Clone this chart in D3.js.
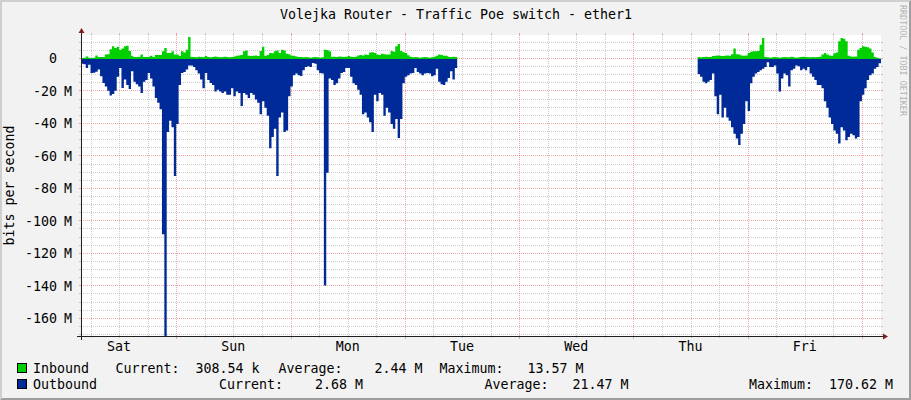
<!DOCTYPE html>
<html><head><meta charset="utf-8">
<script src="https://cdn.jsdelivr.net/npm/d3@7"></script>
<style>
html,body{margin:0;padding:0;background:#fff;}
svg{display:block;}
text{font-family:"DejaVu Sans Mono",monospace;white-space:pre;}
</style></head><body>
<svg id="c" width="911" height="400"></svg>
<script>
// ---------- data ----------
const title = "Volejka Router - Traffic Poe switch - ether1";
const yAxisTitle = "bits per second";
const watermark = "RRDTOOL / TOBI OETIKER";
const dayLabels = ["Sat","Sun","Mon","Tue","Wed","Thu","Fri"];
const seriesNames = ["Inbound","Outbound"];
const seriesColors = ["#00CF00","#002A97"];
const stepMinutes = 30;
const viewStart = new Date(2024,0,6,4,0);   // Saturday 04:00
const viewEnd   = new Date(2024,0,13,4,0);
const seg1Start = new Date(2024,0,6,4,0);
const seg2Start = new Date(2024,0,11,13,30);
// values in Mbit/s (outbound drawn negative)
const inbound1 = [0.6,0.8,1.6,0.8,0.6,0.8,2.2,1.2,1.2,1.2,
 2.7,3,6,7.8,6.8,7.5,5.5,6.5,7.8,8.2,
 5,2,1.2,1.2,1.4,2.7,1.2,1.2,1.4,2,
 1.2,2.5,2.5,2.5,4.7,6.8,3.7,3.7,4.7,2.7,
 2.7,2,4.7,4,5.7,13.57,1.2,1.2,1.0,1.4,
 1.2,1.0,1.8,1.2,1.0,1.2,1.6,1.2,1.0,1.2,
 1.4,1.2,1.0,1.2,1.6,2,2.2,2.5,4.7,5.2,
 2,1.8,2,2.2,1.8,5,7.5,2,2.5,3.7,
 3.5,4.7,5.2,3.7,5.7,5.2,3.3,3,2,2,
 1.6,1.2,1.2,1.0,1.2,1.0,0.8,1.0,1.2,1.0,
 0.8,1.0,5.7,5.5,4.7,1.4,1.4,1.2,1.6,1.4,
 1.2,1.4,1.8,1.4,1.2,1.4,2.2,2.5,2.2,2.7,
 2.5,4,4.2,3.7,2.7,2.5,3.3,3,2.7,2.7,
 5,4.5,7.8,9.2,5,4.2,3.7,2.3,1.4,1.0,
 1.2,1.0,0.8,1.0,1.2,1.0,0.8,1.0,1.4,2,
 2.7,2.5,2,2,1.4,1.2,1.4,1.2];
const outbound1 = [3,3.2,5.5,3.5,8.6,8.4,7.8,6.5,10.7,14.8,
 17,19.5,22.5,21.5,19.5,11,5.5,17.8,12.7,16,
 18.5,7.6,14,15.5,17,21,14,13,8.6,12,
 17,24,27,31,108,170.62,45,38,42,72,
 40,16,8.6,8,6.5,4,4,5,7,9,
 12.7,18,8.6,13,14.8,16,20,19,20,21,
 20,22,22,18,23,20,21,29,21,22,
 24,21,22,25,27,34,26,30,35,55,
 48,43,72,36,33,45,44,23,17,10,
 9,10,10.5,7,5,4.5,5,2.5,3,7,
 8.6,9,139.5,70,12,13,16,15,12,8.6,
 8,5.5,5.5,11,15,16,19,22,34,33,
 36,39,45,22,26,21,22,35,30,33,
 40,43,37,48.6,37,15,11,10,9,8.6,
 5.5,8,9,10,9,8.6,9,10.7,10,6,
 14,15.5,16,14,11.7,7.6,12.7,5.5];
const inbound2 = [1.2,1.0,1.2,1.4,1.2,1.2,1.8,2.0,2.2,2.0,
 1.8,2.0,2.2,2.0,3,6.5,3,2.7,2.2,2,
 2.2,3.7,4.5,4.7,4.7,5,8.8,13,1.2,1.0,
 0.8,1.0,1.2,1.0,0.8,1.0,1.2,1.0,1.0,1.4,
 1.0,0.8,1.0,1.2,1.4,1.2,1.0,1.0,1.2,1.0,
 1.2,1.4,2.7,3.7,2.7,2.2,2,3.5,4,11,
 13,12.5,11,2,1.6,1.4,1.6,5.7,6.8,7.8,
 7.5,7.2,6.5,4,1.2,0.8,0.31];
const outbound2 = [9.2,11,14,15,14,13,9,23,34,22,
 36,30,36,38,42,46,49,53,46,40,
 26,32,15,11,9,8,7,6,5,2,
 5,5,4,9,20,12,9,10,17,7,
 6,4,4.5,7,6,7,5,9,11,13,
 16,16,18,26,30,36,40,44,46,52,
 42,44,50,48,46,47,49,48,26,22,
 18,13,10,9,6,5,2.68];
const legendLabels = ["Current:","Average:","Maximum:"];
const legendCurrent = [[308.54,"k"],[2.68,"M"]];
const legendAverage = [[2.44,"M"],[21.47,"M"]];
const legendMaximum = [[13.57,"M"],[170.62,"M"]];
const yMin = -170.62, yMax = 14.78;
const yMinorStep = 5, yMajorStep = 20;

// ---------- layout ----------
const W = 911, H = 400;
const xOrigin = 81, xSize = 800, yOrigin = 336, ySize = 301;
const col = {back:"#F2F2F2", shadeA:"#CFCFCF", shadeB:"#9E9E9E", grid:"rgba(143,143,143,0.45)",
  mgrid:"rgba(222,79,79,0.5)", arrow:"#801F1F", axis:"#1F1F1F", font:"#000"};

const svg = d3.select("#c");
const x = d3.scaleTime().domain([viewStart, viewEnd]).range([xOrigin, xOrigin + xSize]);
const y = d3.scaleLinear().domain([yMin, yMax]).range([yOrigin, yOrigin - ySize]);

// background + 3d border
svg.append("rect").attr("width", W).attr("height", H).attr("fill", col.back);
svg.append("polygon").attr("points", [[0,H],[2,H-2],[2,2],[W-2,2],[W,0],[0,0]].join(" ")).attr("fill", col.shadeA);
svg.append("polygon").attr("points", [[2,H-2],[W-2,H-2],[W-2,2],[W,0],[W,H],[0,H]].join(" ")).attr("fill", col.shadeB);

// canvas
const cTop = yOrigin - ySize;
svg.append("rect").attr("x", xOrigin).attr("y", cTop).attr("width", xSize).attr("height", ySize).attr("fill", "#fff");

const g = svg.append("g").attr("shape-rendering", "crispEdges");
const px = v => Math.round(v) + 0.5;

// x grid
const allHours = d3.timeHour.every(6).range(viewStart, viewEnd);
allHours.forEach(t => {
  const major = t.getHours() === 0;
  const xx = px(x(t));
  if (xx <= xOrigin + 1) return;
  const c = major ? col.mgrid : col.grid;
  g.append("line").attr("x1", xx).attr("x2", xx).attr("y1", cTop).attr("y2", yOrigin)
    .attr("stroke", c).attr("stroke-dasharray", "1,1");
  g.append("line").attr("x1", xx).attr("x2", xx).attr("y1", yOrigin).attr("y2", yOrigin + (major ? 3 : 2)).attr("stroke", c);
  g.append("line").attr("x1", xx).attr("x2", xx).attr("y1", cTop - 2).attr("y2", cTop).attr("stroke", c);
});
// y grid
const yVals = d3.range(Math.ceil(yMin / yMinorStep) * yMinorStep, yMax, yMinorStep);
yVals.forEach(v => {
  const major = v % yMajorStep === 0;
  const yy = px(y(v)) - 1;
  const c = major ? col.mgrid : col.grid;
  g.append("line").attr("x1", xOrigin).attr("x2", xOrigin + xSize).attr("y1", yy).attr("y2", yy)
    .attr("stroke", c).attr("stroke-dasharray", "1,1");
  g.append("line").attr("x1", xOrigin - 2).attr("x2", xOrigin).attr("y1", yy).attr("y2", yy).attr("stroke", c);
  g.append("line").attr("x1", xOrigin + xSize).attr("x2", xOrigin + xSize + 2).attr("y1", yy).attr("y2", yy).attr("stroke", c);
});

// data areas
function series(start, vals, sign) {
  const pts = vals.map((v, i) => ({t: d3.timeMinute.offset(start, i * stepMinutes), v: sign * v}));
  pts.push({t: d3.timeMinute.offset(start, vals.length * stepMinutes), v: sign * vals[vals.length - 1]});
  return pts;
}
const area = d3.area().curve(d3.curveStepAfter).x(d => x(d.t)).y0(y(0)).y1(d => y(d.v));
svg.append("clipPath").attr("id", "clip").append("rect").attr("x", xOrigin).attr("y", cTop).attr("width", xSize).attr("height", ySize);
const dg = svg.append("g").attr("clip-path", "url(#clip)");
[[seg1Start, inbound1, 1, 0], [seg2Start, inbound2, 1, 0], [seg1Start, outbound1, -1, 1], [seg2Start, outbound2, -1, 1]]
  .forEach(([s, vals, sign, ci]) => {
    dg.append("path").datum(series(s, vals, sign)).attr("d", area).attr("fill", seriesColors[ci]);
  });

// axes
svg.append("line").attr("x1", xOrigin - 4).attr("x2", xOrigin + xSize + 4).attr("y1", yOrigin + 0.5).attr("y2", yOrigin + 0.5)
  .attr("stroke", col.axis).attr("shape-rendering", "crispEdges");
svg.append("line").attr("x1", xOrigin + 0.5).attr("x2", xOrigin + 0.5).attr("y1", yOrigin + 4).attr("y2", cTop - 4)
  .attr("stroke", col.axis).attr("shape-rendering", "crispEdges");
svg.append("polygon").attr("points", [[xOrigin + xSize + 2, yOrigin - 2.5], [xOrigin + xSize + 2, yOrigin + 3.5], [xOrigin + xSize + 7, yOrigin + 0.5]].join(" ")).attr("fill", col.arrow);
svg.append("polygon").attr("points", [[xOrigin - 2.5, cTop - 2], [xOrigin + 3.5, cTop - 2], [xOrigin + 0.5, cTop - 7]].join(" ")).attr("fill", col.arrow);

const FS = 13.3;
// y labels
d3.range(0, yMin, -yMajorStep).forEach(v => {
  const yy = y(v) + 4.5;
  svg.append("text").attr("x", 57).attr("y", yy).attr("text-anchor", "end").attr("font-size", FS).text(v === 0 ? "0" : String(v));
  if (v !== 0) svg.append("text").attr("x", 64).attr("y", yy).attr("font-size", FS).text("M");
});
// x labels at noon
d3.timeDay.range(d3.timeDay.floor(viewStart), viewEnd).forEach((d, i) => {
  const t = d3.timeHour.offset(d, 12);
  if (t < viewStart || t > viewEnd) return;
  svg.append("text").attr("x", x(t)).attr("y", 351).attr("text-anchor", "middle").attr("font-size", FS)
    .text(dayLabels[i]);
});

// title
svg.append("text").attr("x", 456).attr("y", 19).attr("text-anchor", "middle").attr("font-size", FS).text(title);
// y axis title
svg.append("text").attr("transform", "translate(14," + (cTop + ySize / 2) + ") rotate(-90)")
  .attr("text-anchor", "middle").attr("font-size", FS).text(yAxisTitle);
// watermark
svg.append("text").attr("transform", "translate(900,5) rotate(90)").attr("font-size", 8.4)
  .attr("fill", "rgba(0,0,0,0.3)").text(watermark);

// legend
const fmt = ([v, u]) => v.toFixed(2).padStart(8, " ") + " " + u;
const rows = [
  {y: 372.5, pos: [33, 115.5, 278.5, 439.5]},
  {y: 388.5, pos: [33, 219, 484.5, 749]}
];
rows.forEach((r, i) => {
  svg.append("rect").attr("x", 17.5).attr("y", r.y - 9).attr("width", 9).attr("height", 9)
    .attr("fill", seriesColors[i]).attr("stroke", "#000").attr("stroke-width", 1);
  const parts = [seriesNames[i],
    legendLabels[0] + fmt(legendCurrent[i]),
    legendLabels[1] + fmt(legendAverage[i]),
    legendLabels[2] + fmt(legendMaximum[i])];
  parts.forEach((p, k) => {
    svg.append("text").attr("x", r.pos[k]).attr("y", r.y).attr("font-size", FS).attr("fill", col.font).text(p);
  });
});
</script>
</body></html>
